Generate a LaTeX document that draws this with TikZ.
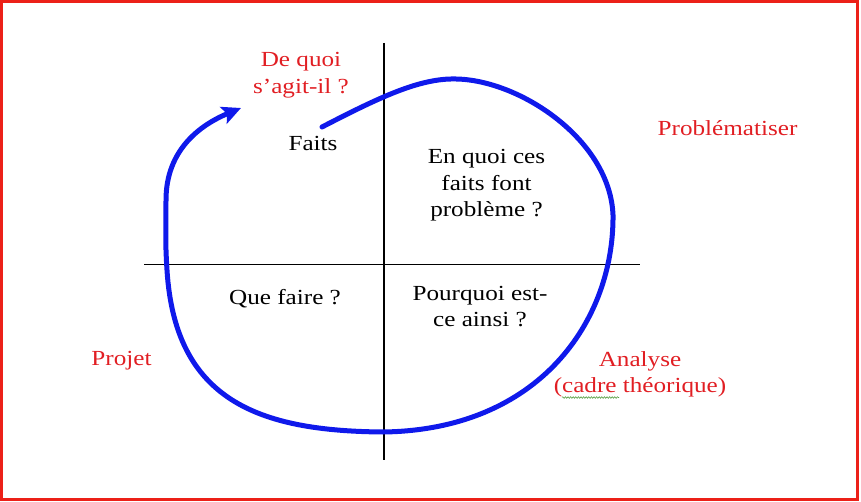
\documentclass[tikz,border=0pt]{standalone}
\usepackage{fontspec}
\setmainfont{Liberation Serif}[FakeStretch=1.17]
\usetikzlibrary{arrows.meta,decorations.pathmorphing}
\definecolor{bordred}{RGB}{236,32,24}
\definecolor{txtred}{RGB}{225,30,35}
\definecolor{loopblue}{RGB}{15,25,235}
\definecolor{spellgreen}{RGB}{90,160,70}
\tikzset{
  lbl/.style={font=\fontsize{21.5}{26.5}\selectfont, inner sep=0pt, align=center, text=black},
  redlbl/.style={lbl, text=txtred},
  axisline/.style={draw=black, line width=1.2pt},
  loopline/.style={draw=loopblue, line width=5pt, line cap=round, -{Stealth[length=19pt,width=18pt,inset=4pt]}},
  spellmark/.style={draw=spellgreen, line width=0.6pt, decorate, decoration={snake, amplitude=0.8pt, segment length=2.6pt}}
}
\begin{document}
\begin{tikzpicture}[x=1pt,y=-1pt]
\useasboundingbox (0,0) rectangle (861,502);
\draw[bordred, line width=3pt] (1.5,1.5) rectangle (857.5,499);
% axes
\coordinate (vtop) at (384,43);
\coordinate (vbot) at (384,460);
\coordinate (hleft) at (144,264.5);
\coordinate (hright) at (640,264.5);
\draw[axisline] (vtop) -- (vbot);
\draw[axisline] (hleft) -- (hright);
% loop
\coordinate (lstart) at (322,127);
\coordinate (ltop) at (456,79);
\coordinate (lright) at (613,215);
\coordinate (lbot) at (383,432);
\coordinate (lleft) at (167,270);
\coordinate (lleftup) at (166,200);
\coordinate (ltip) at (241,108);
\draw[loopline] (lstart) .. controls (380,97) and (420,78) .. (ltop)
  .. controls (520,80) and (610,140) .. (lright)
  .. controls (614,320) and (540,430) .. (lbot)
  .. controls (258,431) and (175,400) .. (lleft)
  .. controls (165,240) and (166,225) .. (lleftup)
  .. controls (166,150) and (200,125) .. (ltip);
% labels
\node[redlbl] (dequoi) at (301,75) {De quoi\\s’agit-il ?};
\node[lbl, anchor=base] (faits) at (313,150.5) {Faits};
\node[lbl] (enquoi) at (486.5,185.5) {En quoi ces\\faits font\\problème ?};
\node[redlbl, anchor=base] (probl) at (727.5,136) {Problématiser};
\node[lbl, anchor=base] (quefaire) at (285,304.3) {Que faire ?};
\node[lbl] (pourquoi) at (480,306.6) {Pourquoi est-\\ce ainsi ?};
\node[redlbl, anchor=base] (projet) at (121.5,365.3) {Projet};
\node[redlbl] (analyse) at (640,374.5) {Analyse\\(cadre théorique)};
\coordinate (spA) at (562,397.5);
\coordinate (spB) at (619,397.5);
\draw[spellmark] (spA) -- (spB);
\end{tikzpicture}
\end{document}
